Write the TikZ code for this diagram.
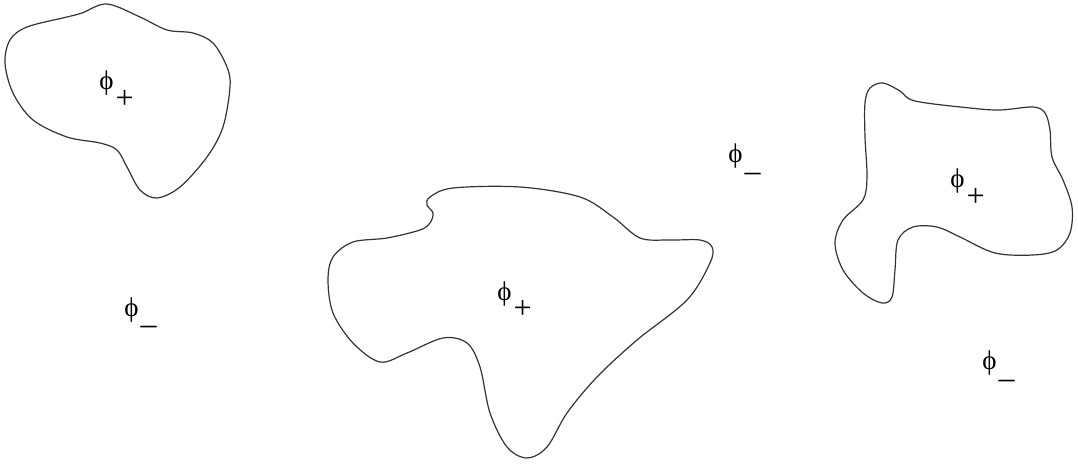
\documentclass[tikz,border=0pt]{standalone}
\usepackage{fontspec}
\setmainfont{Liberation Serif}
\usetikzlibrary{positioning}

\newcommand{\subfont}{\fontsize{16}{18}\selectfont}
\newcommand{\phip}{ϕ\kern1pt\raisebox{-9.2pt}{\subfont +}}
\newcommand{\phim}{ϕ\kern1pt\raisebox{-9.2pt}{\subfont –}}

\begin{document}
\begin{tikzpicture}[
    x=0.5pt, y=-0.5pt,
    blob/.style={draw=black!80, line width=0.6pt},
    lbl/.style={font=\fontsize{13.5}{15}\selectfont, inner sep=0pt, anchor=base west},
]
\useasboundingbox (0,0) rectangle (1078,465);

% left region
\draw[blob] plot[smooth cycle, tension=0.55] coordinates {
    (82,13) (107,4) (140,17) (167,30) (193,33) (213,43) (227,67) (230,87)
    (223,127) (207,157) (180,187) (157,198) (140,190) (127,167) (117,150)
    (100,143) (67,137) (33,120) (13,93) (5,63) (10,40) (27,27) (67,17)};
\node[lbl] (inL) at (99,90) {\phip};
\node[lbl] (outL) at (124,316) {\phim};

% middle region
\draw[blob] plot[smooth cycle, tension=0.55] coordinates {
    (427,205) (433,213) (430,223) (420,230) (387,238) (353,242) (333,257)
    (328,280) (333,313) (353,343) (380,362) (407,353) (443,338) (467,343)
    (480,367) (490,413) (507,447) (527,458) (547,447) (567,413) (597,377)
    (637,340) (687,300) (710,263) (712,247) (700,240) (670,240) (640,238)
    (613,217) (580,197) (520,187) (453,188) (430,197)};
\node[lbl] (inM) at (497,300) {\phip};
\node[lbl] (outM) at (728,163) {\phim};

% right region
\draw[blob] plot[smooth cycle, tension=0.55] coordinates {
    (883,83) (900,91) (915,101) (970,108) (1000,110) (1033,107)
    (1045,113) (1050,130) (1052,157) (1063,180) (1072,207) (1070,233)
    (1057,250) (1033,255) (995,253) (960,237) (937,227)
    (913,227) (898,240) (895,270) (892,297) (882,303) (863,293) (843,270)
    (835,243) (843,220) (863,200) (867,177) (865,137) (865,103) (870,88)};
\node[lbl] (inR) at (950,188) {\phip};
\node[lbl] (outR) at (982,370) {\phim};
\end{tikzpicture}
\end{document}
